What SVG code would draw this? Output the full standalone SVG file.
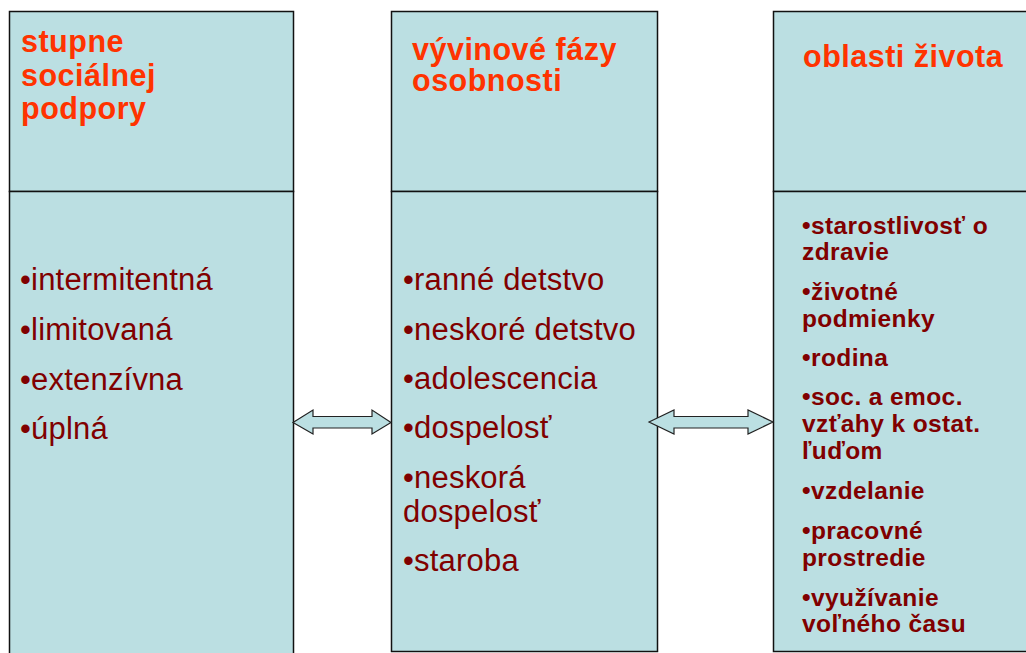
<svg xmlns="http://www.w3.org/2000/svg" width="1026" height="653" viewBox="0 0 1026 653">
<style>
.box{fill:#BBDFE2;stroke:#111;stroke-width:1.5}
.hd{font-family:"Liberation Sans",Arial,sans-serif;font-weight:bold;font-size:30.5px;letter-spacing:0.5px;fill:#FF3300}
.it{font-family:"Liberation Sans",Arial,sans-serif;font-size:31px;letter-spacing:0.2px;fill:#800000}
.rt{font-family:"Liberation Sans",Arial,sans-serif;font-weight:bold;font-size:24.5px;letter-spacing:0.4px;fill:#800000}
.arr{fill:#BBDFE2;stroke:#222;stroke-width:1.2;stroke-linejoin:miter}
</style>
<rect width="1026" height="653" fill="#fff"/>
<g id="col-left">
<rect class="box" x="9.5" y="11.5" width="284" height="180"/>
<rect class="box" x="9.5" y="191.5" width="284" height="470"/>
<text class="hd" x="21" y="52">stupne</text>
<text class="hd" x="21" y="86">sociálnej</text>
<text class="hd" x="21" y="119">podpory</text>
<text class="it" x="20" y="290">•intermitentná</text>
<text class="it" x="20" y="340">•limitovaná</text>
<text class="it" x="20" y="390">•extenzívna</text>
<text class="it" x="20" y="439">•úplná</text>
</g>
<g id="col-middle">
<rect class="box" x="391.5" y="11.5" width="266" height="180"/>
<rect class="box" x="391.5" y="191.5" width="266" height="460"/>
<text class="hd" x="412" y="60">vývinové fázy</text>
<text class="hd" x="412" y="91">osobnosti</text>
<text class="it" x="403" y="290">•ranné detstvo</text>
<text class="it" x="403" y="340">•neskoré detstvo</text>
<text class="it" x="403" y="389">•adolescencia</text>
<text class="it" x="403" y="438">•dospelosť</text>
<text class="it" x="403" y="488">•neskorá</text>
<text class="it" x="403" y="522">dospelosť</text>
<text class="it" x="403" y="571">•staroba</text>
</g>
<g id="col-right">
<rect class="box" x="773.5" y="11.5" width="260" height="180"/>
<rect class="box" x="773.5" y="191.5" width="260" height="460"/>
<text class="hd" x="803" y="67">oblasti života</text>
<text class="rt" x="802" y="234">•starostlivosť o</text>
<text class="rt" x="802" y="260">zdravie</text>
<text class="rt" x="802" y="300">•životné</text>
<text class="rt" x="802" y="327">podmienky</text>
<text class="rt" x="802" y="366">•rodina</text>
<text class="rt" x="802" y="405">•soc. a emoc.</text>
<text class="rt" x="802" y="432">vzťahy k ostat.</text>
<text class="rt" x="802" y="459">ľuďom</text>
<text class="rt" x="802" y="499">•vzdelanie</text>
<text class="rt" x="802" y="539">•pracovné</text>
<text class="rt" x="802" y="566">prostredie</text>
<text class="rt" x="802" y="606">•využívanie</text>
<text class="rt" x="802" y="632">voľného času</text>
</g>
<g id="connectors">
<polygon class="arr" points="293,422.5 313,410 313,416.5 372,416.5 372,410 391,422.5 372,434 372,428 313,428 313,434"/>
<polygon class="arr" points="649,422 674,410 674,416.5 748,416.5 748,410 773,422 748,434 748,428 674,428 674,434"/>
</g>
</svg>
